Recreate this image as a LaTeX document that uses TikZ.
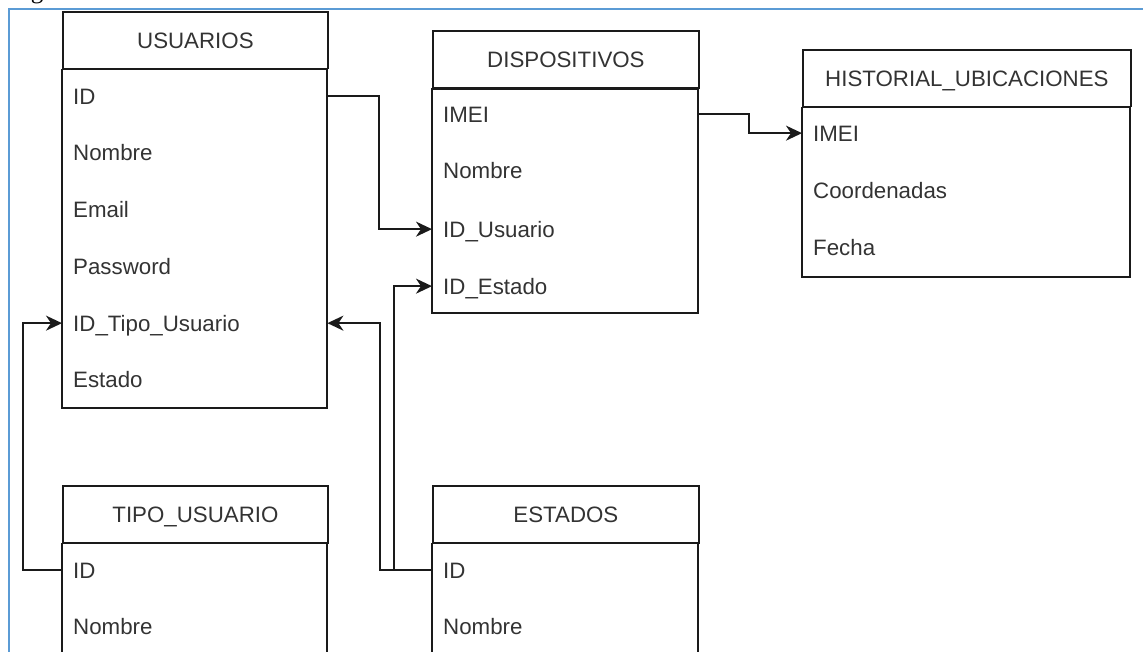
\documentclass[tikz,border=0pt]{standalone}
\usepackage{fontspec}
\setmainfont{Liberation Sans}
\newfontfamily\capserif{Liberation Serif}
\usetikzlibrary{arrows.meta}
\definecolor{frameblue}{HTML}{5B9BD5}
\definecolor{txt}{HTML}{333333}
\definecolor{edge}{HTML}{1A1A1A}
\tikzset{
  x=1pt, y=-1pt,
  lbl/.style={font=\fontsize{22.3}{26}\selectfont, text=txt, text height=16pt, text depth=0pt},
  tablehead/.style={lbl, draw=edge, line width=1.8pt, rectangle, anchor=north west,
    minimum height=56.7pt, inner sep=0pt},
  tablebody/.style={draw=edge, line width=1.8pt},
  field/.style={lbl, rectangle, anchor=north west, minimum height=56.7pt,
    inner ysep=0pt, inner xsep=11pt, align=left},
  fk/.style={draw=edge, line width=2pt, -{Stealth[length=16pt, width=15pt, inset=5pt]}},
}
\begin{document}
\begin{tikzpicture}
\useasboundingbox (0,0) rectangle (1143,652);
\clip (0,0) rectangle (1143,652);

% page frame and the tail of a line of text above it
\node[anchor=base, font=\fontsize{25}{28}\capserif, text=black, inner sep=0pt] (pagetext) at (37,-1) {g};
\draw[frameblue, line width=2pt] (8.5,700) -- (8.5,9) -- (1160,9);

% USUARIOS
\node[tablehead, minimum width=265pt] (usu) at (62,11) {USUARIOS};
\draw[tablebody] (usu.south west) rectangle (327,408);
\node[field, text width=243pt] (u-id)     at (62,67.7)  {ID};
\node[field, text width=243pt] (u-nom)    at (62,124.4) {Nombre};
\node[field, text width=243pt] (u-mail)   at (62,181.1) {Email};
\node[field, text width=243pt] (u-pass)   at (62,237.8) {Password};
\node[field, text width=243pt] (u-tipo)   at (62,294.6) {ID\_Tipo\_Usuario};
\node[field, text width=243pt] (u-est)    at (62,351.3) {Estado};

% DISPOSITIVOS
\node[tablehead, minimum width=266pt] (disp) at (432,30.5) {DISPOSITIVOS};
\draw[tablebody] (disp.south west) rectangle (698,313);
\node[field, text width=244pt] (d-imei) at (432,85.6)  {IMEI};
\node[field, text width=244pt] (d-nom)  at (432,142.3) {Nombre};
\node[field, text width=244pt] (d-idu)  at (432,200.6) {ID\_Usuario};
\node[field, text width=244pt] (d-ide)  at (432,257.6) {ID\_Estado};

% HISTORIAL_UBICACIONES
\node[tablehead, minimum width=328pt] (hist) at (802,49) {HISTORIAL\_UBICACIONES};
\draw[tablebody] (hist.south west) rectangle (1130,277);
\node[field, text width=306pt] (h-imei)  at (802,104.6) {IMEI};
\node[field, text width=306pt] (h-coord) at (802,162.4) {Coordenadas};
\node[field, text width=306pt] (h-fecha) at (802,219.1) {Fecha};

% TIPO_USUARIO
\node[tablehead, minimum width=265pt] (tipo) at (62,485) {TIPO\_USUARIO};
\draw[tablebody] (tipo.south west) rectangle (327,720);
\node[field, text width=243pt] (t-id)  at (62,541.6) {ID};
\node[field, text width=243pt] (t-nom) at (62,598.4) {Nombre};

% ESTADOS
\node[tablehead, minimum width=266pt] (est) at (432,485) {ESTADOS};
\draw[tablebody] (est.south west) rectangle (698,720);
\node[field, text width=244pt] (e-id)  at (432,541.6) {ID};
\node[field, text width=244pt] (e-nom) at (432,598.4) {Nombre};

% foreign keys
\draw[fk] (u-id.east) -- ++(52,0) |- (d-idu.west);
\draw[fk] (e-id.west) -- ++(-38.5,0) |- (d-ide.west);
\draw[fk] (e-id.west) -- ++(-52.5,0) |- (u-tipo.east);
\draw[fk] (t-id.west) -- ++(-39,0) |- (u-tipo.west);
\draw[fk] (d-imei.east) -- ++(51,0) |- (h-imei.west);
\end{tikzpicture}
\end{document}
